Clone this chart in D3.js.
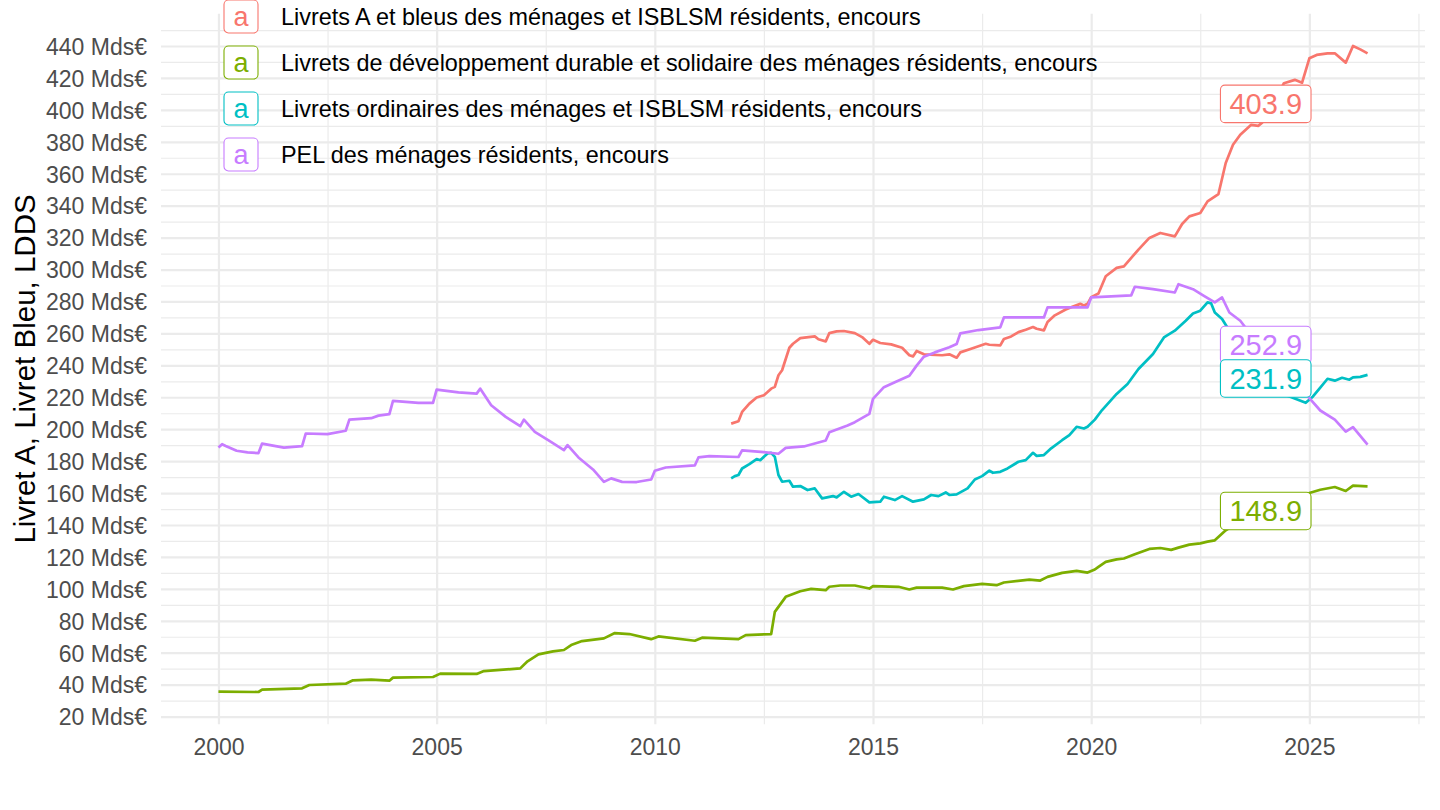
<!DOCTYPE html>
<html lang="fr">
<head>
<meta charset="UTF-8">
<title>Livret A, Livret Bleu, LDDS</title>
<style>
  body { margin: 0; background: #fff; }
  svg { font-family: "Liberation Sans", Arial, sans-serif; }
  .grid line { stroke: #ebebeb; }
  .grid .domain { display: none; }
  .axis .domain, .axis line { display: none; }
  .axis text { fill: #4d4d4d; font-size: 23px; }
  .serie { fill: none; stroke-width: 2.7px; stroke-linejoin: round; }
  .legend .name { font-size: 23.4px; fill: #000; }
</style>
</head>
<body>
<svg width="1440" height="810"></svg>
<script src="https://cdnjs.cloudflare.com/ajax/libs/d3/7.8.5/d3.min.js"></script>
<script>

// --- data (Mds€, monthly dates YYYY-MM) ---

var names = [
  "Livrets A et bleus des ménages et ISBLSM résidents, encours",
  "Livrets de développement durable et solidaire des ménages résidents, encours",
  "Livrets ordinaires des ménages et ISBLSM résidents, encours",
  "PEL des ménages résidents, encours"
];

var colors = ["#F8766D", "#7CAE00", "#00BFC4", "#C77CFF"];

var livretADates = ["2011-10","2011-12","2012-01","2012-03","2012-05","2012-07","2012-08","2012-09","2012-10","2012-11","2012-12",
  "2013-02","2013-03","2013-05","2013-09","2013-10","2013-12","2014-01","2014-03","2014-05","2014-08","2014-10","2014-12",
  "2015-01","2015-03","2015-06","2015-09","2015-11","2015-12","2016-01","2016-03","2016-08","2016-10","2016-12",
  "2017-01","2017-04","2017-08","2017-09","2017-12","2018-01","2018-03","2018-05","2018-07","2018-09","2018-10","2018-12",
  "2019-01","2019-03","2019-06","2019-08","2019-10","2019-11","2019-12","2020-01","2020-03","2020-05","2020-08","2020-10",
  "2021-02","2021-05","2021-08","2021-12","2022-02","2022-04","2022-07","2022-09","2022-12","2023-02","2023-04","2023-06",
  "2023-09","2023-11","2023-12","2024-01","2024-05","2024-06","2024-09","2024-11","2025-01","2025-03","2025-06","2025-08",
  "2025-11","2026-01","2026-03","2026-05"];
var livretAValues = [203.5,205,210.8,216,219.8,221.3,223.3,225.4,226.5,233.8,236.9,
  251,253.5,257,258.1,256.3,255,260.2,261.3,261.5,260.2,257.7,253.5,
  256,254,253.1,251,246.3,245.6,249,246.9,246.3,246.9,244.8,
  248.1,250.4,253.5,252.9,252.5,256.5,258.1,260.8,262.3,264,262.9,261.9,
  267.1,271.3,275,276.9,278.5,277.5,278.5,282.7,285,295.8,301,302,
  312.5,319.8,322.9,320.8,328.5,333.3,335.4,342.7,347.3,366.7,378.1,384.4,
  390.6,390,392,403.9,412,416.7,418.8,417,432.3,434.4,435.4,435.4,
  429.6,440,437.9,435.4];

var lddsDates = ["2000-01","2000-12","2001-01","2001-12","2002-02","2002-12","2003-02","2003-07","2003-12","2004-01","2004-12",
  "2005-02","2005-12","2006-02","2006-12","2007-02","2007-05","2007-09","2007-12","2008-02","2008-05","2008-11",
  "2009-02","2009-06","2009-12","2010-02","2010-12","2011-02","2011-12","2012-02","2012-09","2012-10","2013-01",
  "2013-05","2013-08","2013-12","2014-01","2014-04","2014-08","2014-12","2015-01","2015-08","2015-11","2016-01",
  "2016-08","2016-11","2017-02","2017-07","2017-11","2018-01","2018-08","2018-11","2019-01","2019-05","2019-09",
  "2019-12","2020-02","2020-03","2020-05","2020-08","2020-10","2021-01","2021-05","2021-08","2021-11","2022-01",
  "2022-04","2022-07","2022-09","2022-11","2023-02","2023-05","2023-09","2024-01","2024-06","2024-11","2025-01",
  "2025-04","2025-08","2025-11","2026-01","2026-05"];
var lddsValues = [35.6,35.4,36.9,37.7,39.8,40.6,42.7,43.1,42.5,44.4,44.8,
  46.9,46.7,48.5,50.2,54.6,59,60.8,61.7,64.8,67.3,69,
  72.3,71.7,68.5,70.2,67.5,69.4,68.5,71,71.7,85.6,95,
  98.5,100,99.2,101.3,102.1,102.1,100.2,101.7,101.3,99.6,100.8,
  100.8,99.6,101.7,103.1,102.3,104,105.8,105.2,107.5,110,111.3,
  110.2,112.1,113.8,116.9,118.5,119,121.7,125,125.6,124.4,125.8,
  127.7,128.5,129.6,130.4,136.7,141,145,148.9,153,156.5,160,
  162.1,163.8,161.3,164.6,164.2];

var ordinairesDates = ["2011-10","2011-11","2011-12","2012-01","2012-03","2012-05","2012-06","2012-07","2012-08","2012-09","2012-10",
  "2012-11","2012-12","2013-02","2013-03","2013-05","2013-07","2013-09","2013-11","2014-02","2014-03","2014-05","2014-07",
  "2014-09","2014-12","2015-03","2015-04","2015-07","2015-09","2015-12","2016-03","2016-05","2016-07","2016-09","2016-10",
  "2016-12","2017-03","2017-05","2017-07","2017-09","2017-10","2017-12","2018-02","2018-05","2018-07","2018-09","2018-10",
  "2018-12","2019-02","2019-05","2019-07","2019-09","2019-11","2019-12","2020-02","2020-04","2020-08","2020-11","2021-02",
  "2021-06","2021-09","2021-12","2022-03","2022-05","2022-07","2022-09","2022-10","2022-11","2023-01","2023-03","2023-06",
  "2023-09","2024-01","2024-04","2024-07","2024-12","2025-02","2025-04","2025-06","2025-08","2025-10","2025-12","2026-01",
  "2026-03","2026-05"];
var ordinairesValues = [169.2,170.6,171.3,175.4,178.1,181.3,180.6,182.7,184.8,185.2,182.7,
  171.3,167.1,167.7,164,164.4,161.9,162.9,156.7,158.1,157.3,160.8,157.7,
  159.4,154.2,154.6,157.7,155.6,158.1,154.6,156,158.8,158.1,160.4,158.8,
  159.2,162.9,168.5,170.6,174,172.7,173.3,175.4,179.6,180.6,185.2,183.3,
  183.8,188,193.1,196.3,201.5,200.4,201.5,206,212,222.1,228.3,237.7,
  247.1,257.5,261.7,267.9,272.5,274.2,279.4,278.8,273.1,269,261.7,250,
  240,231.9,226,221,216.5,220.5,226,231.6,230.4,232.2,231,232.5,
  232.8,234];

var pelDates = ["2000-01","2000-02","2000-03","2000-06","2000-09","2000-12","2001-01","2001-07","2001-12","2002-01","2002-07",
  "2002-12","2003-01","2003-07","2003-09","2003-12","2004-01","2004-08","2004-12","2005-01","2005-07","2005-12",
  "2006-01","2006-04","2006-08","2006-12","2007-01","2007-04","2007-08","2007-12","2008-01","2008-04","2008-08",
  "2008-11","2009-01","2009-04","2009-08","2009-12","2010-01","2010-04","2010-12","2011-01","2011-04","2011-12",
  "2012-01","2012-07","2012-11","2013-01","2013-06","2013-12","2014-01","2014-06","2014-08","2014-12","2015-01",
  "2015-04","2015-07","2015-11","2016-01","2016-03","2016-06","2016-10","2016-12","2017-01","2017-06","2017-12",
  "2018-01","2018-12","2019-01","2019-12","2020-01","2020-12","2021-01","2021-06","2021-12","2022-01","2022-05",
  "2022-08","2022-11","2023-01","2023-03","2023-06","2023-09","2024-01","2024-04","2024-07","2024-10","2025-01",
  "2025-04","2025-08","2025-11","2026-01","2026-05"];
var pelValues = [188.5,190.6,189.5,186.5,185.5,185,191,188.5,189.4,197.3,196.9,
  199,206,206.9,208.5,209.4,217.7,216.5,216.5,224.8,223.1,222.3,
  225.4,215,207.7,201.9,206,198.3,192.7,186.9,190,182.3,174.8,
  167,169.2,167,166.9,168.5,174,176,177.3,182.3,183.1,182.6,
  186.7,185.6,184.6,188.3,189.2,192.9,198.1,202.3,204.4,209.6,219,
  226.3,229.4,233.5,239.8,245.4,248.1,251.3,253.3,260,262.1,263.8,
  270,270,276.3,276.3,282.5,283.8,289.2,287.7,285.6,290.8,287.7,
  283.5,279.4,282.5,273.1,267.9,259,252.9,245,236,227,219.5,
  211.7,206,198.5,201.3,190.3];

var labelDate = "2024-01";

var yTicks = d3.range(20, 441, 20);
var yMinor = d3.range(30, 451, 20);
var xTicks = [2000, 2005, 2010, 2015, 2020, 2025];
var xMinor = [2002.5, 2007.5, 2012.5, 2017.5, 2022.5, 2027.5];

// --- layout ---

var svg = d3.select("svg");
var panel = { left: 161, right: 1425, top: 13.7, bottom: 724.3 };

function decYear(s) {
  var p = s.split("-");
  return +p[0] + (+p[1] - 1) / 12;
}

var series = [
  { dates: livretADates, values: livretAValues },
  { dates: lddsDates, values: lddsValues },
  { dates: ordinairesDates, values: ordinairesValues },
  { dates: pelDates, values: pelValues }
].map(function (s, i) {
  return {
    name: names[i],
    color: colors[i],
    points: s.dates.map(function (d, j) { return { x: decYear(d), y: s.values[j], date: d }; })
  };
});

var allX = [], allY = [];
series.forEach(function (s) {
  s.points.forEach(function (p) { allX.push(p.x); allY.push(p.y); });
});
var xExt = d3.extent(allX), yExt = d3.extent(allY);
var xPad = (xExt[1] - xExt[0]) * 0.05, yPad = (yExt[1] - yExt[0]) * 0.05;

var x = d3.scaleLinear()
  .domain([xExt[0] - xPad, xExt[1] + xPad])
  .range([panel.left, panel.right]);

var y = d3.scaleLinear()
  .domain([yExt[0] - yPad, yExt[1] + yPad])
  .range([panel.bottom, panel.top]);

// grid
var ph = panel.bottom - panel.top, pw = panel.right - panel.left;

svg.append("g").attr("class", "grid")
  .attr("transform", "translate(" + panel.left + ",0)")
  .call(d3.axisLeft(y).tickValues(yMinor).tickSize(-pw).tickFormat(""))
  .selectAll("line").style("stroke-width", 1.2);

svg.append("g").attr("class", "grid")
  .attr("transform", "translate(0," + panel.bottom + ")")
  .call(d3.axisBottom(x).tickValues(xMinor).tickSize(-ph).tickFormat(""))
  .selectAll("line").style("stroke-width", 1.2);

svg.append("g").attr("class", "grid")
  .attr("transform", "translate(" + panel.left + ",0)")
  .call(d3.axisLeft(y).tickValues(yTicks).tickSize(-pw).tickFormat(""))
  .selectAll("line").style("stroke-width", 2.2);

svg.append("g").attr("class", "grid")
  .attr("transform", "translate(0," + panel.bottom + ")")
  .call(d3.axisBottom(x).tickValues(xTicks).tickSize(-ph).tickFormat(""))
  .selectAll("line").style("stroke-width", 2.2);

// axes labels
svg.append("g").attr("class", "axis")
  .attr("transform", "translate(" + (panel.left - 14) + ",0)")
  .call(d3.axisLeft(y).tickValues(yTicks).tickSize(0).tickPadding(0)
    .tickFormat(function (d) { return d + " Mds€"; }))
  .selectAll("text").attr("dy", "0.36em");

svg.append("g").attr("class", "axis")
  .attr("transform", "translate(0," + (panel.bottom + 14) + ")")
  .call(d3.axisBottom(x).tickValues(xTicks).tickSize(0).tickPadding(0)
    .tickFormat(d3.format("d")))
  .selectAll("text").attr("dy", "0.71em");

svg.append("text")
  .attr("transform", "translate(35," + ((panel.top + panel.bottom) / 2) + ") rotate(-90)")
  .attr("text-anchor", "middle")
  .style("font-size", "29.5px")
  .text("Livret A, Livret Bleu, LDDS");

// lines
var line = d3.line()
  .x(function (d) { return x(d.x); })
  .y(function (d) { return y(d.y); });

svg.append("g").selectAll("path")
  .data(series)
  .enter().append("path")
  .attr("class", "serie")
  .attr("stroke", function (d) { return d.color; })
  .attr("d", function (d) { return line(d.points); });

// value labels at the label date (purple first so the teal box sits on top)
var labelOrder = [0, 1, 3, 2];
var lab = svg.append("g").selectAll("g")
  .data(labelOrder.map(function (i) {
    var s = series[i];
    var p = s.points.find(function (q) { return q.date === labelDate; });
    return { color: s.color, x: p.x, y: p.y };
  }))
  .enter().append("g")
  .attr("transform", function (d) { return "translate(" + x(d.x) + "," + y(d.y) + ")"; });

lab.append("rect");
lab.append("text")
  .attr("text-anchor", "middle")
  .attr("dy", "0.36em")
  .style("font-size", "29px")
  .style("fill", function (d) { return d.color; })
  .text(function (d) { return d.y.toFixed(1); });

lab.each(function () {
  var g = d3.select(this);
  var w = g.select("text").node().getComputedTextLength() + 18;
  g.select("rect")
    .attr("x", -w / 2).attr("y", -18.5)
    .attr("width", w).attr("height", 37.5)
    .attr("rx", 4.5)
    .attr("fill", "#fff")
    .attr("stroke", function (d) { return d.color; })
    .attr("stroke-width", 1.1);
});

// legend (top-left, inside the panel)
var leg = svg.append("g").attr("class", "legend")
  .selectAll("g")
  .data(series)
  .enter().append("g")
  .attr("transform", function (d, i) { return "translate(224," + (16.5 + i * 46) + ")"; });

leg.append("rect")
  .attr("x", 0).attr("y", -16.5)
  .attr("width", 34).attr("height", 33)
  .attr("rx", 4.5)
  .attr("fill", "#fff")
  .attr("stroke", function (d) { return d.color; })
  .attr("stroke-width", 1.1);

leg.append("text")
  .attr("x", 17)
  .attr("dy", "0.36em")
  .attr("text-anchor", "middle")
  .style("font-size", "27px")
  .style("fill", function (d) { return d.color; })
  .text("a");

leg.append("text")
  .attr("class", "name")
  .attr("x", 57)
  .attr("dy", "0.36em")
  .text(function (d) { return d.name; });

</script>
</body>
</html>
